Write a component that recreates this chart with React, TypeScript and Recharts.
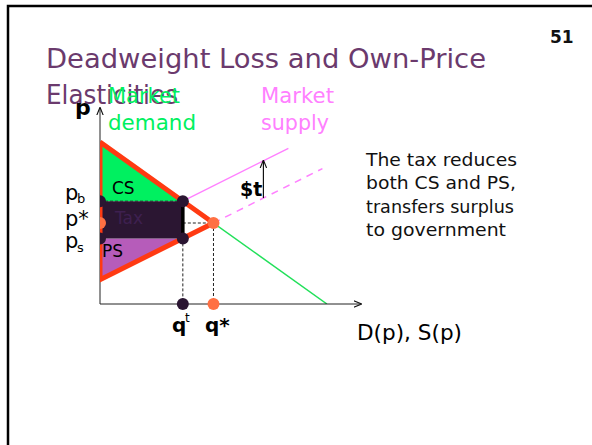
import React from 'react';
import {
  ComposedChart,
  XAxis,
  YAxis,
  Line,
  Area,
  ReferenceArea,
  ReferenceLine,
  ReferenceDot,
} from 'recharts';

// values (quantity q, price p)
const qStar = 5;
const pStar = 5;
const qTax = 3.65;
const pBuyer = 6.35;
const pSeller = 4.05;
const axisEnd = { q: 11.5, p: 12.1 };

const demand = [{ q: 0, p: 10 }, { q: 10, p: 0 }];
const supplyTaxed = [{ q: 3.65, p: 6.35 }, { q: 8.3, p: 9.61 }];
const supplyDashed = [{ q: 5, p: 5 }, { q: 9.8, p: 8.36 }];
const lossTriangle = [
  { q: 0, p: 10 },
  { q: 5, p: 5 },
  { q: 0, p: 1.5 },
  { q: 0, p: 10 },
];
const csBand = [{ q: 0, band: [6.35, 10] }, { q: 3.65, band: [6.35, 6.35] }];
const psBand = [{ q: 0, band: [1.5, 4.05] }, { q: 3.65, band: [4.05, 4.05] }];
const taxArrow = { q: 7.2, from: 6.54, to: 8.84 };
// marker points that sit under the red outline
const darkMarks = [
  { q: 0, p: 6.35 },
  { q: 0, p: 4.05 },
  { q: 3.65, p: 6.35 },
  { q: 3.65, p: 4.05 },
];
const orangeMarks = [{ q: 0, p: 5 }];

const descLines = ['The tax reduces', 'both CS and PS,', 'transfers surplus', 'to government'];
const descWidths = [151, 150, 148, 140];

const font = '"DejaVu Sans", Verdana, sans-serif';

const dark = '#2b1632';
const orange = '#ff7043';
const red = '#ff3a12';
const pink = '#ff80ff';
const green = '#00f060';

export default function App() {
  return (
    <div style={{ position: 'absolute', left: 0, top: 0, width: 592, height: 445, background: '#fff' }}>
      <svg width={0} height={0} style={{ position: 'absolute' }}>
        <defs>
          <marker id="arrowHead" viewBox="0 0 10 10" refX="9" refY="5" markerWidth="8" markerHeight="8" orient="auto-start-reverse" markerUnits="userSpaceOnUse">
            <path d="M0,1 L10,5 L0,9" fill="none" stroke="#111" strokeWidth={1.4} />
          </marker>
        </defs>
      </svg>
      <ComposedChart width={592} height={445} margin={{ top: 108, right: 231, bottom: 141, left: 100 }}>
        <XAxis type="number" dataKey="q" domain={[0, axisEnd.q]} hide allowDataOverflow />
        <YAxis type="number" domain={[0, axisEnd.p]} hide allowDataOverflow />

        <Area data={csBand} dataKey="band" type="linear" fill={green} fillOpacity={1} stroke="none" isAnimationActive={false} />
        <Area data={psBand} dataKey="band" type="linear" fill="#b65cba" fillOpacity={1} stroke="none" isAnimationActive={false} />
        <ReferenceArea x1={0} x2={qTax} y1={pSeller} y2={pBuyer} fill={dark} fillOpacity={1} stroke="none" />

        <Line data={demand} dataKey="p" type="linear" stroke="#22e05a" strokeWidth={1.5} dot={false} isAnimationActive={false} />
        <Line data={supplyTaxed} dataKey="p" type="linear" stroke={pink} strokeWidth={1.5} dot={false} isAnimationActive={false} />
        <Line data={supplyDashed} dataKey="p" type="linear" stroke={pink} strokeWidth={1.5} strokeDasharray="7 6" dot={false} isAnimationActive={false} />

        <ReferenceLine segment={[{ x: 0, y: pBuyer }, { x: qTax, y: pBuyer }]} stroke="#222" strokeDasharray="3 2" strokeWidth={0.8} />
        <ReferenceLine segment={[{ x: qTax, y: pStar }, { x: qStar, y: pStar }]} stroke="#222" strokeDasharray="3 2" />
        <ReferenceLine segment={[{ x: qTax, y: pSeller }, { x: qTax, y: 0 }]} stroke="#222" strokeDasharray="3 2" />
        <ReferenceLine segment={[{ x: qStar, y: pStar }, { x: qStar, y: 0 }]} stroke="#222" strokeDasharray="3 2" />
        <ReferenceLine segment={[{ x: qTax, y: pSeller }, { x: qTax, y: pBuyer }]} stroke="#000" strokeWidth={3.5} />

        <ReferenceLine segment={[{ x: 0, y: 0 }, { x: axisEnd.q, y: 0 }]} stroke="#222" strokeWidth={1} markerEnd="url(#arrowHead)" />
        <ReferenceLine segment={[{ x: 0, y: 0 }, { x: 0, y: axisEnd.p }]} stroke="#222" strokeWidth={1} markerEnd="url(#arrowHead)" />
        <ReferenceLine segment={[{ x: taxArrow.q, y: taxArrow.from }, { x: taxArrow.q, y: taxArrow.to }]} stroke="#111" strokeWidth={1.2} markerEnd="url(#arrowHead)" />

        <Line data={darkMarks} dataKey="p" type="linear" stroke="none" dot={{ r: 6, fill: dark, stroke: 'none', strokeWidth: 0 }} isAnimationActive={false} />
        <Line data={orangeMarks} dataKey="p" type="linear" stroke="none" dot={{ r: 6, fill: orange, stroke: 'none', strokeWidth: 0 }} isAnimationActive={false} />

        <Line data={lossTriangle} dataKey="p" type="linear" stroke={red} strokeWidth={5} strokeLinejoin="miter" dot={false} isAnimationActive={false} />

        <ReferenceDot x={qTax} y={0} r={6} fill={dark} stroke="none" />
        <ReferenceDot x={qStar} y={pStar} r={6} fill={orange} stroke="none" />
        <ReferenceDot x={qStar} y={0} r={6} fill={orange} stroke="none" />
      </ComposedChart>

      <svg width={592} height={445} style={{ position: 'absolute', left: 0, top: 0, pointerEvents: 'none' }} fontFamily={font}>
        <path d="M8,445 V6 H592" fill="none" stroke="#000" strokeWidth={2.5} />
        <text x={46} y={68} fontSize={26} fill="#6b3a6d" textLength={440} lengthAdjust="spacingAndGlyphs">Deadweight Loss and Own-Price</text>
        <text x={46} y={104} fontSize={26} fill="#6b3a6d" textLength={132} lengthAdjust="spacingAndGlyphs">Elasticities</text>
        <text x={550} y={43} fontSize={17} fontWeight="bold" fill="#111">51</text>

        <text x={108} y={103} fontSize={21} fill={green} textLength={72} lengthAdjust="spacingAndGlyphs">Market</text>
        <text x={108} y={130} fontSize={21} fill={green} textLength={88} lengthAdjust="spacingAndGlyphs">demand</text>
        <text x={261} y={103} fontSize={21} fill={pink} textLength={73} lengthAdjust="spacingAndGlyphs">Market</text>
        <text x={261} y={130} fontSize={21} fill={pink} textLength={68} lengthAdjust="spacingAndGlyphs">supply</text>

        <text x={75} y={115} fontSize={22} fontWeight="bold" fill="#000">p</text>
        <text x={65} y={200} fontSize={21} fill="#000">p</text>
        <text x={77} y={203} fontSize={13} fill="#000">b</text>
        <text x={65} y={226} fontSize={21} fill="#000">p*</text>
        <text x={65} y={248} fontSize={21} fill="#000">p</text>
        <text x={77} y={252} fontSize={13} fill="#000">s</text>

        <text x={112} y={194} fontSize={17} fill="#000">CS</text>
        <text x={115} y={224} fontSize={17} fill="#3e2050">Tax</text>
        <text x={102} y={257} fontSize={17} fill="#000">PS</text>
        <text x={240} y={196} fontSize={19} fontWeight="bold" fill="#000">$t</text>

        <text x={172} y={332} fontSize={20} fontWeight="bold" fill="#000">q</text>
        <text x={185} y={322} fontSize={12} fill="#000">t</text>
        <text x={205} y={332} fontSize={20} fontWeight="bold" fill="#000">q*</text>
        <text x={357} y={340} fontSize={22} fill="#000" textLength={105} lengthAdjust="spacingAndGlyphs">D(p), S(p)</text>

        {descLines.map((line, i) => (
          <text key={line} x={366} y={166 + i * 23.3} fontSize={18} fill="#111" textLength={descWidths[i]} lengthAdjust="spacingAndGlyphs">
            {line}
          </text>
        ))}
      </svg>
    </div>
  );
}
